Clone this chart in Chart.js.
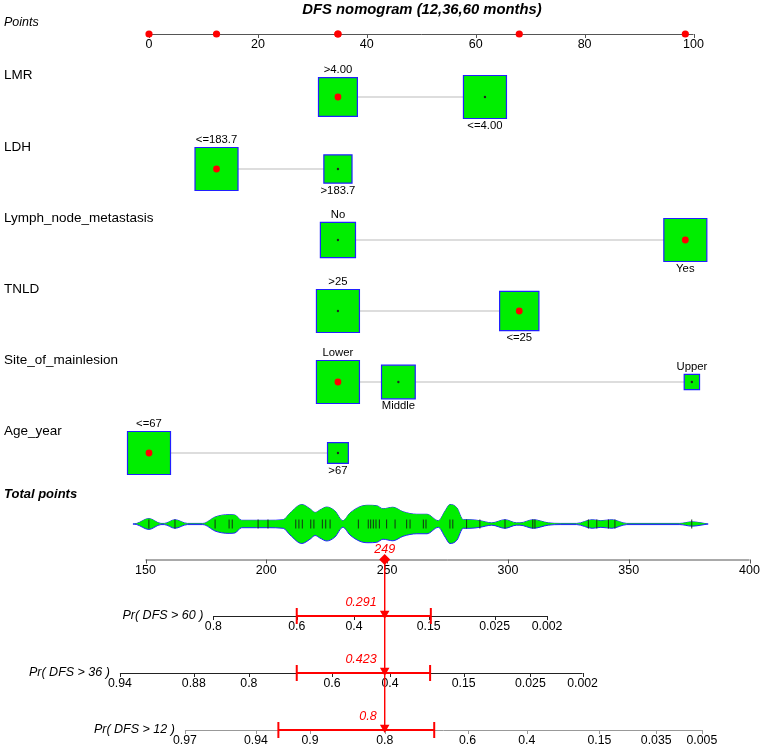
<!DOCTYPE html>
<html><head><meta charset="utf-8">
<script src="https://cdn.jsdelivr.net/npm/chart.js@4.4.1/dist/chart.umd.min.js"></script>
<style>html,body{margin:0;padding:0;background:#fff;} #wrap{width:762px;height:747px;}</style>
</head><body><div id="wrap"><canvas id="c" width="762" height="747"></canvas></div>
<script>
// ================= DATA =================
const chartTitle = 'DFS nomogram (12,36,60 months)';
const variableNames = ['LMR', 'LDH', 'Lymph_node_metastasis', 'TNLD', 'Site_of_mainlesion', 'Age_year'];

const lmrLevels = ['>4.00', '<=4.00'];
const lmrPoints = [34.7, 61.7];
const lmrFreq = [0.45, 0.55];

const ldhLevels = ['<=183.7', '>183.7'];
const ldhPoints = [12.4, 34.7];
const ldhFreq = [0.70, 0.30];

const lymphLevels = ['No', 'Yes'];
const lymphPoints = [34.7, 98.5];
const lymphFreq = [0.40, 0.60];

const tnldLevels = ['>25', '<=25'];
const tnldPoints = [34.7, 68.0];
const tnldFreq = [0.545, 0.455];

const siteLevels = ['Lower', 'Middle', 'Upper'];
const sitePoints = [34.7, 45.8, 99.7];
const siteFreq = [0.574, 0.353, 0.073];

const ageLevels = ['<=67', '>67'];
const agePoints = [0, 34.7];
const ageFreq = [0.81, 0.19];

const selectedLevel = [0, 0, 1, 1, 0, 0];

const pointsTicks = [0, 20, 40, 60, 80, 100];
const totalTicks = [150, 200, 250, 300, 350, 400];
const totalScore = 249;

// distribution of total points (relative density) and individual observations
const densityTotals = [144.8,146.4,151.4,156.4,157.8,162.2,167.3,173.7,178.8,181.5,184.6,187.0,189.8,196.0,200.8,207.0,209.8,214.7,218.1,220.2,222.2,225.0,228.4,231.7,234.6,238.8,242.1,245.7,248.3,252.4,256.6,262.3,266.5,271.2,274.0,276.0,278.9,281.5,284.3,288.4,293.3,298.8,303.6,305.0,310.5,316.7,321.6,328.5,334.9,338.5,343.0,349.2,371.2,376.1,382.9];
const densityValues = [0,0.03,0.28,0.03,0.03,0.22,0.03,0.03,0.36,0.45,0.48,0.46,0.19,0.19,0.19,0.22,0.56,1.0,0.78,0.59,0.72,0.87,0.67,0.17,0.56,0.89,0.96,0.94,0.78,0.86,0.63,0.5,0.5,0.17,0.67,1.0,0.83,0.22,0.22,0.17,0.06,0.22,0.06,0.06,0.22,0.06,0.03,0.03,0.22,0.17,0.22,0.03,0.03,0.11,0];
const rugTotals = [151.4,162.2,178.8,184.6,185.9,196.6,200.7,212.2,213.5,214.9,218.4,219.7,223.2,224.6,226.4,238.1,242.2,243.2,244.3,245.4,246.8,249.8,253.3,258.1,259.5,265.0,266.1,276.0,277.2,282.9,288.4,298.8,310.3,311.2,333.3,336.8,341.6,344.3,376.1];

const probLabels = ['Pr( DFS > 60 )', 'Pr( DFS > 36 )', 'Pr( DFS > 12 )'];
const pr60TickLabels = ['0.8', '0.6', '0.4', '0.15', '0.025', '0.002'];
const pr60TickTotals = [178.1, 212.6, 236.3, 267.2, 294.5, 316.2];
const pr36TickLabels = ['0.94', '0.88', '0.8', '0.6', '0.4', '0.15', '0.025', '0.002'];
const pr36TickTotals = [139.4, 170.0, 192.8, 227.2, 251.2, 281.7, 309.3, 330.9];
const pr12TickLabels = ['0.97', '0.94', '0.9', '0.8', '0.6', '0.4', '0.15', '0.035', '0.005'];
const pr12TickTotals = [166.3, 195.7, 218.1, 249.0, 283.3, 307.8, 337.9, 361.4, 380.3];
const predictedLabels = ['0.291', '0.423', '0.8'];
const ciLowTotals = [212.6, 212.6, 205.0];
const ciHighTotals = [268.1, 267.8, 269.5];

// ================= LAYOUT =================
const W = 762, H = 747;
const ROW = { title: 10, points: 34, vars: [97, 169, 240, 311, 382, 453], totLabel: 494, violin: 524, total: 559.5, prob: [616, 673, 730] };
const PT0 = 149, PT100 = 693.5;      // pixel anchors of points scale
const TOT150 = 145.5, TOT400 = 749.5; // pixel anchors of total points scale
const BOX_MAX = 43, VIOLIN_HALF = 19.5;
const FONT = '"Liberation Sans", Arial, sans-serif';
const GREEN = '#00ee00', BLUE = '#2020ff', RED = '#ff0000';

const ppp = (PT100 - PT0) / 100;
const xMin = -PT0 / ppp, xMax = xMin + W / ppp;
const ppt = (TOT400 - TOT150) / 250;
const tMin = 150 - TOT150 / ppt, tMax = tMin + W / ppt;

const vars = [
  { levels: lmrLevels, points: lmrPoints, freq: lmrFreq },
  { levels: ldhLevels, points: ldhPoints, freq: ldhFreq },
  { levels: lymphLevels, points: lymphPoints, freq: lymphFreq },
  { levels: tnldLevels, points: tnldPoints, freq: tnldFreq },
  { levels: siteLevels, points: sitePoints, freq: siteFreq },
  { levels: ageLevels, points: agePoints, freq: ageFreq }
];
const probAxes = [
  { labels: pr60TickLabels, totals: pr60TickTotals, color: '#222' },
  { labels: pr36TickLabels, totals: pr36TickTotals, color: '#222' },
  { labels: pr12TickLabels, totals: pr12TickTotals, color: '#999' }
];

// ================= DATASETS =================
const datasets = [];
vars.forEach((v, i) => {
  datasets.push({ type: 'line', data: [{ x: Math.min(...v.points), y: ROW.vars[i] }, { x: Math.max(...v.points), y: ROW.vars[i] }],
    borderColor: '#d2d2d2', borderWidth: 1.5, pointRadius: 0, xAxisID: 'x', yAxisID: 'y', order: 30 });
});
const boxData = [], boxRadius = [], dotData = [], selData = [], selPts = [];
vars.forEach((v, i) => {
  const fmax = Math.max(...v.freq);
  v.points.forEach((p, j) => {
    boxData.push({ x: p, y: ROW.vars[i] });
    boxRadius.push(BOX_MAX * Math.sqrt(v.freq[j] / fmax) / Math.SQRT2);
    if (j === selectedLevel[i]) { selData.push({ x: p, y: ROW.vars[i] }); selPts.push({ x: p, y: ROW.points }); }
    else dotData.push({ x: p, y: ROW.vars[i] });
  });
});
datasets.push({ type: 'scatter', data: boxData, pointStyle: 'rect', pointRadius: boxRadius, backgroundColor: GREEN, borderColor: BLUE, borderWidth: 1.2, xAxisID: 'x', yAxisID: 'y', order: 25 });
datasets.push({ type: 'scatter', data: dotData, pointRadius: 1.2, backgroundColor: '#222', borderWidth: 0, xAxisID: 'x', yAxisID: 'y', order: 20 });
datasets.push({ type: 'scatter', data: selData, pointRadius: 3.4, backgroundColor: RED, borderWidth: 0, xAxisID: 'x', yAxisID: 'y', order: 20 });
datasets.push({ type: 'scatter', data: selPts, pointRadius: 3.6, backgroundColor: RED, borderWidth: 0, xAxisID: 'x', yAxisID: 'y', order: 5 });

// violin of total points
const upper = densityTotals.map((t, k) => ({ x: t, y: ROW.violin - densityValues[k] * VIOLIN_HALF }));
const lower = densityTotals.map((t, k) => ({ x: t, y: ROW.violin + densityValues[k] * VIOLIN_HALF }));
datasets.push({ type: 'line', data: upper, borderColor: BLUE, borderWidth: 1, pointRadius: 0, cubicInterpolationMode: 'monotone', fill: false, xAxisID: 'xt', yAxisID: 'y', order: 16 });
datasets.push({ type: 'line', data: lower, borderColor: BLUE, borderWidth: 1, pointRadius: 0, cubicInterpolationMode: 'monotone', fill: '-1', backgroundColor: GREEN, xAxisID: 'xt', yAxisID: 'y', order: 15 });
datasets.push({ type: 'scatter', data: rugTotals.map(t => ({ x: t, y: ROW.violin })), pointStyle: 'line', rotation: 90, pointRadius: 4.5, borderColor: '#143014', borderWidth: 1, xAxisID: 'xt', yAxisID: 'y', order: 14 });

// red reading line, marker and CIs
datasets.push({ type: 'line', data: [{ x: totalScore, y: ROW.total }, { x: totalScore, y: ROW.prob[2] }], borderColor: RED, borderWidth: 1, pointRadius: 0, xAxisID: 'xt', yAxisID: 'y', order: 4 });
datasets.push({ type: 'scatter', data: [{ x: totalScore, y: ROW.total }], pointStyle: 'rectRot', pointRadius: 5.5, backgroundColor: RED, borderWidth: 0, xAxisID: 'xt', yAxisID: 'y', order: 3 });
ROW.prob.forEach((py, k) => {
  datasets.push({ type: 'line', data: [{ x: ciLowTotals[k], y: py }, { x: ciHighTotals[k], y: py }], borderColor: RED, borderWidth: 2.2, pointRadius: 0, xAxisID: 'xt', yAxisID: 'y', order: 4 });
  datasets.push({ type: 'scatter', data: [{ x: ciLowTotals[k], y: py }, { x: ciHighTotals[k], y: py }], pointStyle: 'line', rotation: 90, pointRadius: 8, borderColor: RED, borderWidth: 2, xAxisID: 'xt', yAxisID: 'y', order: 4 });
  datasets.push({ type: 'scatter', data: [{ x: totalScore, y: py - 2.5 }], pointStyle: 'triangle', rotation: 180, pointRadius: 5.5, backgroundColor: RED, borderWidth: 0, xAxisID: 'xt', yAxisID: 'y', order: 2 });
});
datasets.forEach(d => { d.clip = false; });

// ================= AXES & TEXT PLUGIN =================
function drawAxis(ctx, scale, y, vals, labels, color, fontSize) {
  const xs = vals.map(v => scale.getPixelForValue(v));
  ctx.save();
  ctx.strokeStyle = color; ctx.lineWidth = 1;
  ctx.beginPath();
  ctx.moveTo(Math.min(...xs), y + 0.5); ctx.lineTo(Math.max(...xs), y + 0.5);
  xs.forEach(x => { const xx = Math.round(x) + 0.5; ctx.moveTo(xx, y); ctx.lineTo(xx, y + 4); });
  ctx.stroke();
  ctx.fillStyle = '#000'; ctx.font = fontSize + 'px ' + FONT;
  ctx.textAlign = 'center'; ctx.textBaseline = 'middle';
  xs.forEach((x, k) => ctx.fillText(labels[k], x, y + 11));
  ctx.restore();
}

const nomoPlugin = {
  id: 'nomo',
  beforeDatasetsDraw(chart) {
    const ctx = chart.ctx, sx = chart.scales.x, st = chart.scales.xt;
    drawAxis(ctx, sx, ROW.points, pointsTicks, pointsTicks.map(String), '#555', 12.5);
    drawAxis(ctx, st, ROW.total, totalTicks, totalTicks.map(String), '#555', 12.5);
    probAxes.forEach((a, k) => drawAxis(ctx, st, ROW.prob[k], a.totals, a.labels, a.color, 12.3));
  },
  afterDatasetsDraw(chart) {
    const ctx = chart.ctx, sx = chart.scales.x, st = chart.scales.xt;
    ctx.save();
    ctx.textBaseline = 'middle';
    ctx.fillStyle = '#000';
    ctx.font = 'italic bold 14.8px ' + FONT; ctx.textAlign = 'center';
    ctx.fillText(chartTitle, 422, ROW.title);
    ctx.textAlign = 'left';
    ctx.font = 'italic 12.5px ' + FONT;
    ctx.fillText('Points', 4, ROW.points - 11);
    ctx.font = '13.5px ' + FONT;
    variableNames.forEach((n, i) => ctx.fillText(n, 4, ROW.vars[i] - 22));
    ctx.font = 'italic bold 13px ' + FONT;
    ctx.fillText('Total points', 4, ROW.totLabel);
    ctx.font = '11.3px ' + FONT; ctx.textAlign = 'center';
    let b = 0;
    vars.forEach((v, i) => {
      v.levels.forEach((lab, j) => {
        const half = boxRadius[b] * Math.SQRT2 / 2; b++;
        const x = sx.getPixelForValue(v.points[j]);
        const y = j % 2 === 0 ? ROW.vars[i] - half - 7.5 : ROW.vars[i] + half + 7.5;
        ctx.fillText(lab, x, y);
      });
    });
    ctx.font = 'italic 12.5px ' + FONT; ctx.textAlign = 'right';
    probAxes.forEach((a, k) => ctx.fillText(probLabels[k], st.getPixelForValue(Math.min(...a.totals)) - 10, ROW.prob[k]));
    ctx.fillStyle = RED; ctx.font = 'italic 12.5px ' + FONT;
    const lx = st.getPixelForValue(totalScore);
    ctx.textAlign = 'center';
    ctx.fillText(String(totalScore), lx, ROW.total - 10);
    ctx.textAlign = 'right';
    predictedLabels.forEach((p, k) => ctx.fillText(p, lx - 8, ROW.prob[k] - 13));
    ctx.restore();
  }
};

new Chart(document.getElementById('c'), {
  type: 'scatter',
  data: { datasets },
  options: {
    responsive: false, animation: false, events: [],
    layout: { padding: 0, autoPadding: false },
    plugins: { legend: { display: false }, tooltip: { enabled: false }, title: { display: false } },
    scales: {
      x: { type: 'linear', min: xMin, max: xMax, display: false },
      xt: { type: 'linear', axis: 'x', min: tMin, max: tMax, display: false },
      y: { type: 'linear', min: 0, max: H, reverse: true, display: false }
    }
  },
  plugins: [nomoPlugin]
});
</script></body></html>
